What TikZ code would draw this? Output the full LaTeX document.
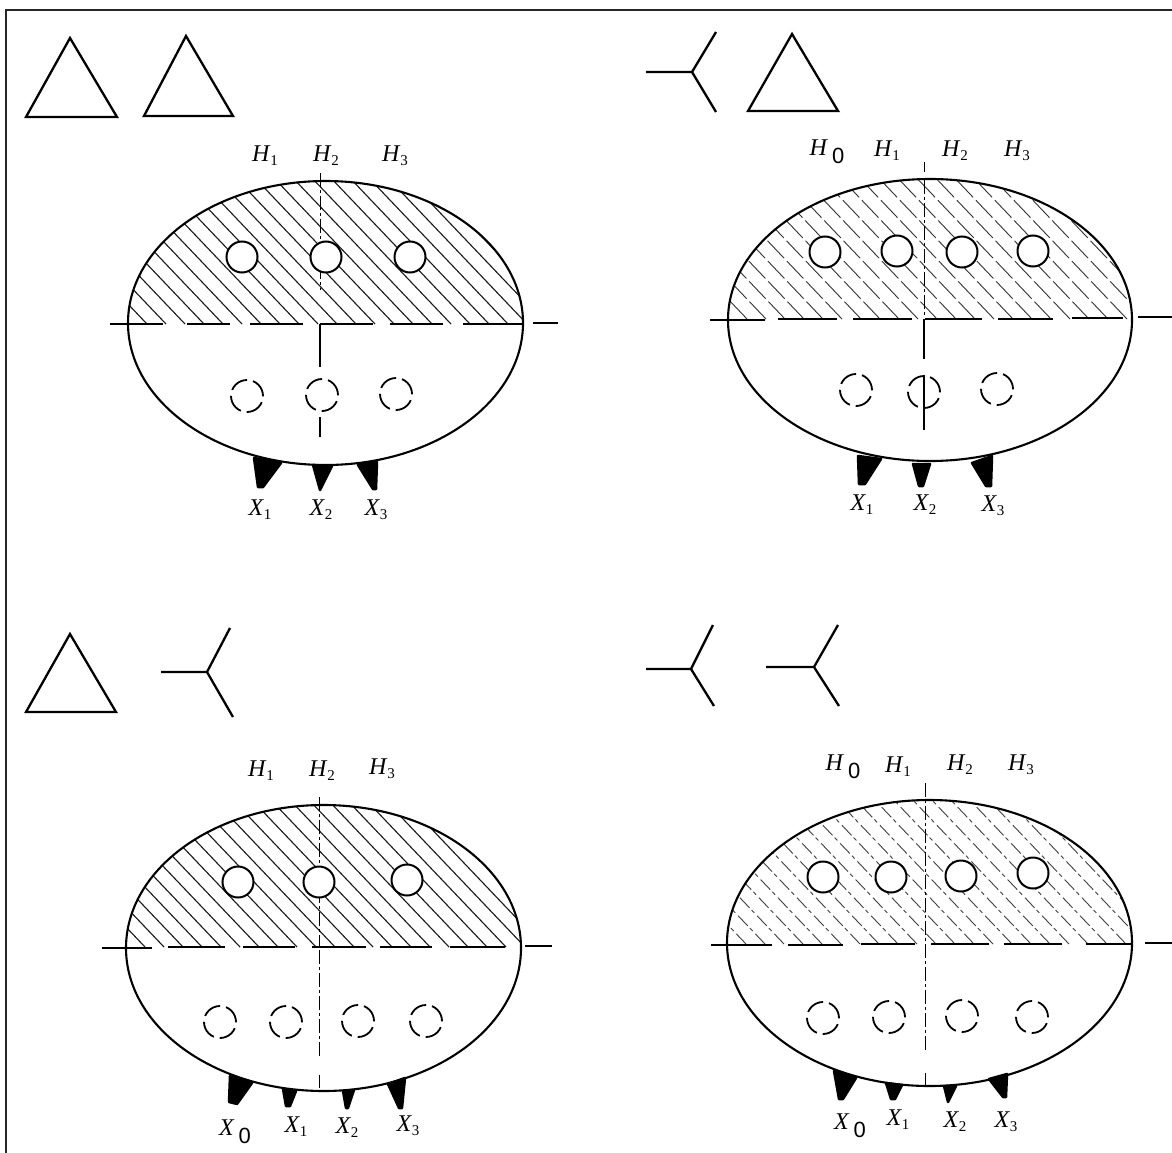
\documentclass[tikz,border=0pt]{standalone}
\usepackage{fontspec}
\setmainfont{Liberation Serif}
\newfontfamily\zerofont{Liberation Sans}
\usetikzlibrary{shapes.geometric}
\tikzset{
  frameline/.style={line width=2pt,black!85},
  symline/.style={line width=2.3pt,black,line join=miter},
  outline/.style={line width=2.1pt,black},
  axisline/.style={line width=1.5pt,black},
  solidcenter/.style={line width=1.4pt,black},
  centerline/.style={line width=1pt,black,dash pattern=on 14pt off 3pt on 3pt off 3pt},
  hatchA/.style={line width=1.1pt,black!90},
  hatchB/.style={line width=.9pt,black!80,dash pattern=on 24pt off 4pt},
  hatchC/.style={line width=.9pt,black!75,dash pattern=on 14pt off 4pt on 4pt off 3pt},
  hole/.style={circle,draw=black,fill=white,line width=2pt,minimum size=31pt,inner sep=0pt},
  ghost/.style={circle,draw=black,line width=1.8pt,minimum size=32pt,inner sep=0pt,dash pattern=on 19pt off 6pt},
  pin/.style={fill=black,draw=black,line width=2.5pt,line join=round},
  lab/.style={inner sep=0pt,font=\fontsize{24}{26}\selectfont},
}
\newcommand{\sbs}[2]{\textit{#1}\raisebox{-4pt}{\fontsize{15}{15}\selectfont #2}}
\newcommand{\szero}[1]{\textit{#1}\,\raisebox{-8pt}{\fontsize{22}{22}\selectfont\zerofont 0}}
% centre x, centre y, rx, ry, axis y, hatch style
\newcommand{\shell}[6]{%
  \begin{scope}
    \clip (#1,#2) ellipse (#3pt and #4pt);
    \clip (#1-#3,#5) rectangle (#1+#3,#2-#4);
    \foreach \k in {0,...,42}
      \draw[#6] ({#1-#3+\k*19},#5) -- ++(-300,-315);
  \end{scope}
  \draw[outline] (#1,#2) ellipse (#3pt and #4pt);
}
\newcommand{\tri}[6]{\draw[symline] (#1,#2) -- (#3,#4) -- (#5,#6) -- cycle;}
\newcommand{\wye}[7]{\draw[symline] (#1,#2) -- (#3,#2) (#4,#5) -- (#3,#2) -- (#6,#7);}
\begin{document}
\begin{tikzpicture}[x=1pt,y=-1pt]
\useasboundingbox (0,0) rectangle (1172,1153);
\fill[white] (0,0) rectangle (1172,1153);
\draw[frameline] (1172,10) -- (6,10) -- (6,1153);

% winding symbols
\tri{70}{38}{26}{117}{117}{117}
\tri{186}{36}{144}{116}{233}{116}
\wye{646}{72}{692}{716}{32}{716}{112}
\tri{792}{34}{748}{111}{838}{111}
\tri{70}{634}{26}{712}{116}{712}
\wye{161}{672}{207}{230}{628}{233}{717}
\wye{646}{669}{691}{713}{625}{714}{706}
\wye{766}{667}{814}{838}{625}{839}{706}

% ---------- panel A
\shell{325.5}{323}{197.5}{142}{324}{hatchA}
\draw[axisline] (110,324)--(163,324) (187,324)--(230,324) (250,324)--(303,324) (320,324)--(373,324) (390,324)--(443,324) (463,324)--(523,324) (533,323)--(558,323);
\draw[centerline] (320,173)--(320,290);
\draw[solidcenter] (320,324)--(320,367) (320,417)--(320,437);
\node[hole] (a1) at (242,257) {};
\node[hole] (a2) at (326,257) {};
\node[hole] (a3) at (410,257) {};
\node[ghost] (a4) at (247,396) {};
\node[ghost] (a5) at (322,395) {};
\node[ghost] (a6) at (396,394) {};
\filldraw[pin] (254,458)--(281,463)--(263,487)--(258,487)--cycle;
\filldraw[pin] (313,465)--(332,466)--(320,490)--cycle;
\filldraw[pin] (358,465)--(377,462)--(376,489)--(373,489)--cycle;
\node[lab] (ah1) at (265,156) {\sbs{H}{1}};
\node[lab] (ah2) at (326,156) {\sbs{H}{2}};
\node[lab] (ah3) at (395,156) {\sbs{H}{3}};
\node[lab] (ax1) at (260,510) {\sbs{X}{1}};
\node[lab] (ax2) at (321,510) {\sbs{X}{2}};
\node[lab] (ax3) at (376,510) {\sbs{X}{3}};

% ---------- panel B
\shell{930}{320}{202}{141}{319}{hatchB}
\draw[axisline] (710,320)--(765,320) (778,319)--(837,319) (853,319)--(912,319) (925,319)--(982,319) (998,319)--(1053,319) (1072,318)--(1123,318) (1138,317)--(1172,317);
\draw[centerline] (924,162)--(924,172) (924,180)--(924,318);
\draw[solidcenter] (924,319)--(924,359) (924,375)--(924,430);
\node[hole] (b1) at (825,252) {};
\node[hole] (b2) at (897,251) {};
\node[hole] (b3) at (962,252) {};
\node[hole] (b4) at (1033,251) {};
\node[ghost] (b5) at (856,390) {};
\node[ghost] (b6) at (924,392) {};
\node[ghost] (b7) at (997,389) {};
\filldraw[pin] (858,456)--(881,459)--(865,484)--(859,484)--cycle;
\filldraw[pin] (913,464)--(930,464)--(923,486)--(919,486)--cycle;
\filldraw[pin] (972,463)--(992,456)--(991,486)--(986,486)--cycle;
\node[lab] (bh0) at (827,152) {\szero{H}};
\node[lab] (bh1) at (887,151) {\sbs{H}{1}};
\node[lab] (bh2) at (955,151) {\sbs{H}{2}};
\node[lab] (bh3) at (1017,151) {\sbs{H}{3}};
\node[lab] (bx1) at (862,505) {\sbs{X}{1}};
\node[lab] (bx2) at (925,505) {\sbs{X}{2}};
\node[lab] (bx3) at (993,506) {\sbs{X}{3}};

% ---------- panel C
\shell{323.5}{948}{197.5}{143}{947}{hatchA}
\draw[axisline] (102,948)--(152,948) (168,947)--(225,947) (243,947)--(295,947) (312,947)--(366,947) (380,947)--(432,947) (450,947)--(505,947) (525,946)--(552,946);
\draw[centerline] (319,797)--(319,947) (319,950)--(319,1057) (319,1075)--(319,1088);
\node[hole] (c1) at (238,882) {};
\node[hole] (c2) at (319,882) {};
\node[hole] (c3) at (407,880) {};
\node[ghost] (c4) at (220,1022) {};
\node[ghost] (c5) at (286,1022) {};
\node[ghost] (c6) at (358,1021) {};
\node[ghost] (c7) at (426,1021) {};
\filldraw[pin] (230,1076)--(252,1083)--(237,1104)--(229,1102)--cycle;
\filldraw[pin] (283,1089)--(296,1091)--(290,1106)--(286,1106)--cycle;
\filldraw[pin] (343,1091)--(354,1090)--(348,1108)--(346,1108)--cycle;
\filldraw[pin] (388,1084)--(405,1078)--(402,1108)--(399,1108)--cycle;
\node[lab] (ch1) at (261,771) {\sbs{H}{1}};
\node[lab] (ch2) at (322,771) {\sbs{H}{2}};
\node[lab] (ch3) at (382,769) {\sbs{H}{3}};
\node[lab] (cx0) at (235,1132) {\szero{X}};
\node[lab] (cx1) at (296,1127) {\sbs{X}{1}};
\node[lab] (cx2) at (347,1128) {\sbs{X}{2}};
\node[lab] (cx3) at (408,1126) {\sbs{X}{3}};

% ---------- panel D
\shell{929.5}{943}{202.5}{143}{944}{hatchC}
\draw[axisline] (711,945)--(772,945) (788,945)--(843,945) (861,944)--(915,944) (931,944)--(989,944) (1004,944)--(1062,944) (1086,944)--(1131,944) (1145,943)--(1172,943);
\draw[centerline] (925,783)--(925,1053) (925,1073)--(925,1085);
\node[hole] (d1) at (823,877) {};
\node[hole] (d2) at (891,877) {};
\node[hole] (d3) at (961,876) {};
\node[hole] (d4) at (1033,873) {};
\node[ghost] (d5) at (823,1018) {};
\node[ghost] (d6) at (889,1017) {};
\node[ghost] (d7) at (962,1016) {};
\node[ghost] (d8) at (1032,1017) {};
\filldraw[pin] (834,1071)--(856,1078)--(843,1099)--(839,1099)--cycle;
\filldraw[pin] (886,1083)--(902,1085)--(895,1099)--(891,1099)--cycle;
\filldraw[pin] (944,1086)--(956,1086)--(948,1102)--cycle;
\filldraw[pin] (989,1079)--(1007,1074)--(1006,1097)--(1003,1097)--cycle;
\node[lab] (dh0) at (843,767) {\szero{H}};
\node[lab] (dh1) at (898,767) {\sbs{H}{1}};
\node[lab] (dh2) at (960,765) {\sbs{H}{2}};
\node[lab] (dh3) at (1021,765) {\sbs{H}{3}};
\node[lab] (dx0) at (850,1126) {\szero{X}};
\node[lab] (dx1) at (898,1120) {\sbs{X}{1}};
\node[lab] (dx2) at (955,1122) {\sbs{X}{2}};
\node[lab] (dx3) at (1006,1122) {\sbs{X}{3}};
\end{tikzpicture}
\end{document}
